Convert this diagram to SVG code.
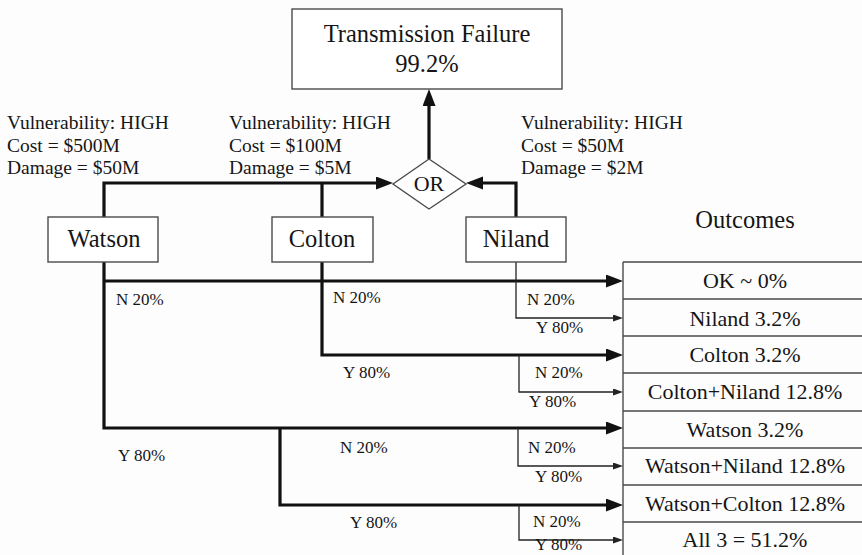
<svg xmlns="http://www.w3.org/2000/svg" width="862" height="555" viewBox="0 0 862 555">
  <style>
    text { font-family: "Liberation Serif", "Times New Roman", serif; fill: #151515; }
    .box { fill: #ffffff; stroke: #4a4a4a; stroke-width: 1.4; }
    .thick { fill: none; stroke: #111; stroke-width: 3.2; }
    .thin { fill: none; stroke: #222; stroke-width: 1.3; }
    .grid { fill: none; stroke: #4a4a4a; stroke-width: 1.4; }
    .title { font-size: 24.5px; text-anchor: middle; }
    .node { font-size: 24.5px; text-anchor: middle; }
    .info { font-size: 19.5px; }
    .lbl { font-size: 17px; }
    .row { font-size: 22px; text-anchor: middle; }
    .gate { font-size: 22px; text-anchor: middle; }
    .arrow-thick { marker-end: url(#headThick); }
    .arrow-thin { marker-end: url(#headThin); }
  </style>
  <defs>
    <marker id="headThick" markerUnits="userSpaceOnUse" markerWidth="18" markerHeight="14" refX="11" refY="6.5" orient="auto">
      <path d="M0,0 L17,6.5 L0,13 Z" fill="#111"/>
    </marker>
    <marker id="headThin" markerUnits="userSpaceOnUse" markerWidth="11" markerHeight="8" refX="6" refY="3.5" orient="auto">
      <path d="M0,0 L10,3.5 L0,7 Z" fill="#222"/>
    </marker>
  </defs>

  <rect width="862" height="555" fill="#fdfdfd"/>

  <!-- connectors -->
  <g id="connectors">
    <!-- up into the OR gate -->
    <path class="thick arrow-thick" d="M104,217 V183 H387"/>
    <path class="thick" d="M322,217 V183"/>
    <path class="thick arrow-thick" d="M516,217 V183 H472"/>
    <path class="thick arrow-thick" d="M429,159 V95"/>
    <!-- Watson branches -->
    <path class="thick arrow-thick" d="M104,262 V428 H617"/>
    <path class="thick arrow-thick" d="M104,281 H617"/>
    <!-- Colton branches -->
    <path class="thick arrow-thick" d="M322,262 V355 H617"/>
    <path class="thick arrow-thick" d="M280,428 V505 H617"/>
    <!-- Niland branches -->
    <path class="thin arrow-thin" d="M516,262 V318 H619"/>
    <path class="thin arrow-thin" d="M519,355 V392 H619"/>
    <path class="thin arrow-thin" d="M518,428 V466 H619"/>
    <path class="thin arrow-thin" d="M519,505 V540 H619"/>
  </g>

  <!-- branch labels -->
  <g id="branch-labels" class="lbl">
    <text x="116" y="305">N 20%</text>
    <text x="118" y="461">Y 80%</text>
    <text x="333" y="303">N 20%</text>
    <text x="343" y="378">Y 80%</text>
    <text x="340" y="453">N 20%</text>
    <text x="350" y="528">Y 80%</text>
    <text x="527" y="305">N 20%</text>
    <text x="536" y="333">Y 80%</text>
    <text x="535" y="378">N 20%</text>
    <text x="529" y="407">Y 80%</text>
    <text x="528" y="453">N 20%</text>
    <text x="535" y="482">Y 80%</text>
    <text x="533" y="527">N 20%</text>
    <text x="535" y="550">Y 80%</text>
  </g>

  <g id="failure">
    <rect class="box" x="292" y="9" width="270" height="80"/>
    <text class="title" x="427" y="42">Transmission Failure</text>
    <text class="title" x="427" y="72">99.2%</text>
  </g>

  <g id="or-gate">
    <polygon class="box" points="393,184 429,159 466,184 429,209"/>
    <text class="gate" x="429" y="191">OR</text>
  </g>

  <g id="watson">
    <text class="info" x="7" y="129">Vulnerability: HIGH</text>
    <text class="info" x="7" y="152">Cost = $500M</text>
    <text class="info" x="7" y="174">Damage = $50M</text>
    <rect class="box" x="48" y="217" width="110" height="45"/>
    <text class="node" x="104" y="247">Watson</text>
  </g>

  <g id="colton">
    <text class="info" x="229" y="129">Vulnerability: HIGH</text>
    <text class="info" x="229" y="152">Cost = $100M</text>
    <text class="info" x="229" y="174">Damage = $5M</text>
    <rect class="box" x="272" y="217" width="101" height="45"/>
    <text class="node" x="322" y="247">Colton</text>
  </g>

  <g id="niland">
    <text class="info" x="521" y="129">Vulnerability: HIGH</text>
    <text class="info" x="521" y="152">Cost = $50M</text>
    <text class="info" x="521" y="174">Damage = $2M</text>
    <rect class="box" x="466" y="217" width="100" height="45"/>
    <text class="node" x="516" y="247">Niland</text>
  </g>

  <g id="outcomes">
    <text class="node" x="745" y="228">Outcomes</text>
    <path class="grid" d="M623,262 V555 M623,262 H862 M623,299 H862 M623,336 H862 M623,373 H862 M623,411 H862 M623,448 H862 M623,485 H862 M623,522 H862"/>
    <text class="row" x="745" y="288">OK ~ 0%</text>
    <text class="row" x="745" y="326">Niland 3.2%</text>
    <text class="row" x="745" y="362">Colton 3.2%</text>
    <text class="row" x="745" y="399">Colton+Niland 12.8%</text>
    <text class="row" x="745" y="437">Watson 3.2%</text>
    <text class="row" x="745" y="473">Watson+Niland 12.8%</text>
    <text class="row" x="745" y="511">Watson+Colton 12.8%</text>
    <text class="row" x="745" y="547">All 3 = 51.2%</text>
  </g>
</svg>
